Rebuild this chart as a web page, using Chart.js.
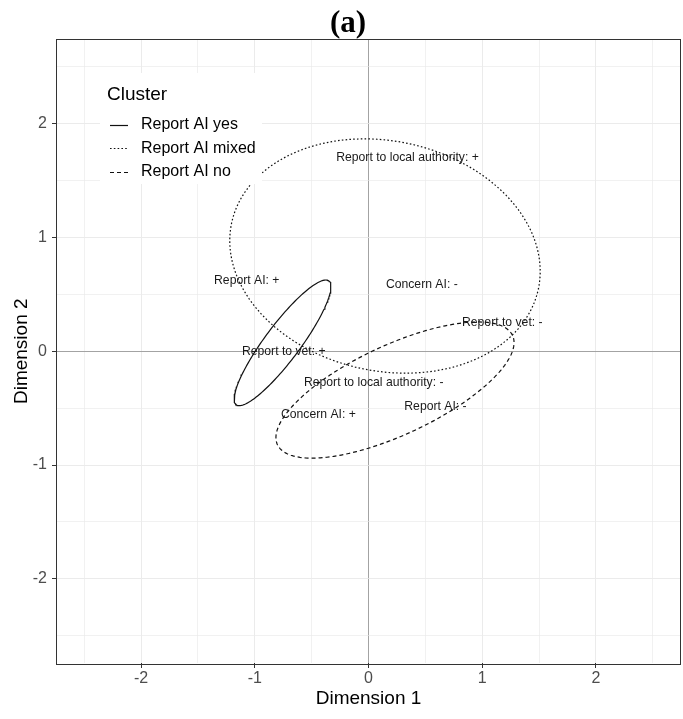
<!DOCTYPE html>
<html>
<head>
<meta charset="utf-8">
<script src="https://cdn.jsdelivr.net/npm/chart.js@4.4.0/dist/chart.umd.min.js"></script>
<style>
  html, body { margin: 0; padding: 0; background: #fff; }
  #wrap { width: 683px; height: 719px; }
</style>
</head>
<body>
<div id="wrap"><canvas id="mcaChart" width="683" height="719"></canvas></div>
<script>
// Dados (a)
const chartTitle = '(a)';
const legendTitle = 'Cluster';
const clusterNames = ['Report AI yes', 'Report AI mixed', 'Report AI no'];

// Elipses de cada cluster: centro, semi-eixos e inclinação (graus)
const ellipseCenterX = [-0.756, 0.145, 0.233];
const ellipseCenterY = [0.074, 0.837, -0.341];
const ellipseSemiMajor = [0.68, 1.38, 1.14];
const ellipseSemiMinor = [0.155, 1.01, 0.394];
const ellipseAngle = [53.2, -12.3, 24.9];

// Categorias (coordenadas das modalidades)
const categoryLabels = [
    'Report to local authority: +',
    'Report AI: +',
    'Concern AI: -',
    'Report to vet: -',
    'Report to vet: +',
    'Report to local authority: -',
    'Concern AI: +',
    'Report AI: -'
];
const categoryX = [0.343, -1.071, 0.469, 1.177, -0.745, 0.046, -0.441, 0.589];
const categoryY = [1.70, 0.618, 0.589, 0.255, 0.0, -0.277, -0.561, -0.488];

// Eixos
const axisTicks = [-2, -1, 0, 1, 2];
const axisLimit = 2.74;
const xAxisTitle = 'Dimension 1';
const yAxisTitle = 'Dimension 2';

// Estilo das linhas por cluster
const lineDashes = [[], [1.6, 2.2], [4, 3]];
const lineColor = '#111';

// Função para gerar o contorno de uma elipse
function ellipseOutline(i, n = 180) {
    const rad = ellipseAngle[i] * Math.PI / 180;
    const pts = [];
    for (let k = 0; k <= n; k++) {
        const t = 2 * Math.PI * k / n;
        const ex = ellipseSemiMajor[i] * Math.cos(t);
        const ey = ellipseSemiMinor[i] * Math.sin(t);
        pts.push({
            x: ellipseCenterX[i] + ex * Math.cos(rad) - ey * Math.sin(rad),
            y: ellipseCenterY[i] + ex * Math.sin(rad) + ey * Math.cos(rad)
        });
    }
    return pts;
}

const ellipseDatasets = clusterNames.map((name, i) => ({
    label: name,
    data: ellipseOutline(i),
    showLine: true,
    borderColor: lineColor,
    borderWidth: 1.2,
    borderDash: lineDashes[i],
    pointRadius: 0,
    fill: false,
    tension: 0
}));

const categoryDataset = {
    label: 'categorias',
    data: categoryX.map((x, i) => ({ x, y: categoryY[i] })),
    showLine: false,
    pointRadius: 0
};

// Plugin: título, moldura do painel, rótulos das categorias e legenda
const mcaDecor = {
    id: 'mcaDecor',
    afterDatasetsDraw(chart) {
        const ctx = chart.ctx;
        const area = chart.chartArea;
        ctx.save();

        // moldura
        ctx.strokeStyle = '#333';
        ctx.lineWidth = 1;
        ctx.setLineDash([]);
        ctx.strokeRect(Math.round(area.left) - 0.5, Math.round(area.top) - 0.5,
            Math.round(area.right - area.left) + 1, Math.round(area.bottom - area.top) + 1);

        // rótulos das categorias
        const meta = chart.getDatasetMeta(clusterNames.length);
        ctx.font = '12.2px "Liberation Sans", Arial, sans-serif';
        ctx.fillStyle = '#1a1a1a';
        ctx.textAlign = 'center';
        ctx.textBaseline = 'middle';
        meta.data.forEach((pt, i) => ctx.fillText(categoryLabels[i], pt.x, pt.y));

        // legenda
        ctx.fillStyle = '#fff';
        ctx.fillRect(100, 73, 162, 111);
        ctx.fillStyle = '#000';
        ctx.textAlign = 'left';
        ctx.font = '19px "Liberation Sans", Arial, sans-serif';
        ctx.fillText(legendTitle, 107, 95);
        ctx.font = '16px "Liberation Sans", Arial, sans-serif';
        clusterNames.forEach((name, i) => {
            const y = 124.5 + i * 23.7;
            ctx.strokeStyle = lineColor;
            ctx.lineWidth = 1.2;
            ctx.setLineDash(lineDashes[i]);
            ctx.beginPath();
            ctx.moveTo(110, Math.round(y) + 0.5);
            ctx.lineTo(128, Math.round(y) + 0.5);
            ctx.stroke();
            ctx.fillText(name, 141, y);
        });
        ctx.setLineDash([]);

        // título
        ctx.font = 'bold 31px "Liberation Serif", "Times New Roman", serif';
        ctx.textAlign = 'center';
        ctx.textBaseline = 'alphabetic';
        ctx.fillText(chartTitle, 348, 32);
        ctx.restore();
    }
};

function gridColor(c) {
    return c.tick && c.tick.value === 0 ? '#a3a3a3' : '#ebebeb';
}
function gridWidth(c) {
    return c.tick && Number.isInteger(c.tick.value) ? 1 : 0.7;
}
function tickColor(c) {
    return c.tick && axisTicks.includes(c.tick.value) ? '#333' : 'rgba(0,0,0,0)';
}
function tickLabel(value) {
    return axisTicks.includes(value) ? String(value) : '';
}

const tickFont = { family: '"Liberation Sans", Arial, sans-serif', size: 16 };
const titleFont = { family: '"Liberation Sans", Arial, sans-serif', size: 19 };

const ctx = document.getElementById('mcaChart').getContext('2d');
const mcaChart = new Chart(ctx, {
    type: 'scatter',
    data: { datasets: [...ellipseDatasets, categoryDataset] },
    options: {
        responsive: false,
        animation: false,
        devicePixelRatio: 1,
        events: [],
        layout: { padding: { top: 39.5, right: 3, left: 0, bottom: 0 } },
        plugins: {
            legend: { display: false },
            title: { display: false },
            tooltip: { enabled: false }
        },
        scales: {
            x: {
                type: 'linear',
                min: -axisLimit,
                max: axisLimit,
                afterFit(scale) { scale.height = 56; },
                border: { display: false },
                grid: { color: gridColor, lineWidth: gridWidth, tickColor: tickColor, tickLength: 5, tickWidth: 1 },
                ticks: { stepSize: 0.5, includeBounds: false, autoSkip: false, maxRotation: 0, padding: 1,
                    color: '#4d4d4d', font: tickFont, callback: tickLabel },
                title: { display: true, text: xAxisTitle, color: '#000', font: titleFont, padding: { top: 0, bottom: 8.6 } }
            },
            y: {
                type: 'linear',
                min: -axisLimit,
                max: axisLimit,
                afterFit(scale) { scale.width = 57; },
                border: { display: false },
                grid: { color: gridColor, lineWidth: gridWidth, tickColor: tickColor, tickLength: 5, tickWidth: 1 },
                ticks: { stepSize: 0.5, includeBounds: false, autoSkip: false, padding: 5,
                    color: '#4d4d4d', font: tickFont, callback: tickLabel },
                title: { display: true, text: yAxisTitle, color: '#000', font: titleFont, padding: { top: 10, bottom: 0 } }
            }
        }
    },
    plugins: [mcaDecor]
});
</script>
</body>
</html>
